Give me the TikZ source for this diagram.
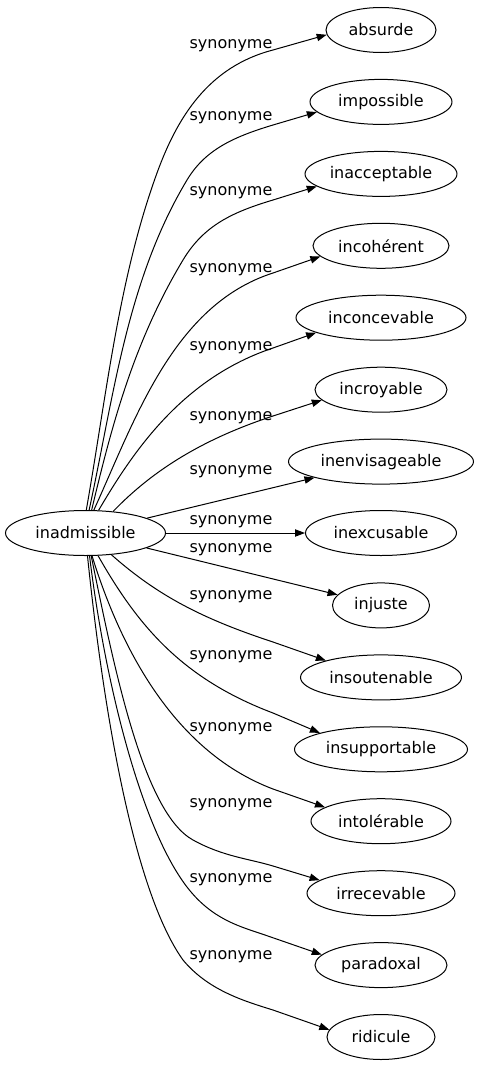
\documentclass[tikz,border=0pt]{standalone}
\usepackage{fontspec}
\setmainfont{DejaVu Sans}
\usetikzlibrary{shapes.geometric,arrows.meta}
\begin{document}
\begin{tikzpicture}[x=0.75pt,y=-0.75pt,
  nd/.style={ellipse,draw,line width=0.75pt,inner sep=0pt,minimum height=33.75pt,font=\fontsize{12}{14}\selectfont},
  lbl/.style={font=\fontsize{12}{14}\selectfont,inner sep=0pt},
  edge/.style={line width=0.75pt,-{Triangle[length=7.5pt,width=5.5pt]}}]
\useasboundingbox (0,0) rectangle (477,1067);
\node[nd,minimum width=120pt] (src) at (85.5,533) {inadmissible};
\node[nd,minimum width=82.5pt]  (t1)  at (381,30)    {absurde};
\node[nd,minimum width=106.5pt] (t2)  at (381,101.9) {impossible};
\node[nd,minimum width=114pt]   (t3)  at (381,173.9) {inacceptable};
\node[nd,minimum width=102pt]   (t4)  at (381,245.8) {incohérent};
\node[nd,minimum width=127.5pt] (t5)  at (381,317.7) {inconcevable};
\node[nd,minimum width=99pt]    (t6)  at (381,389.7) {incroyable};
\node[nd,minimum width=138.75pt](t7)  at (381,461.6) {inenvisageable};
\node[nd,minimum width=113.25pt](t8)  at (381,533)   {inexcusable};
\node[nd,minimum width=72.75pt] (t9)  at (381,605.4) {injuste};
\node[nd,minimum width=120.75pt](t10) at (381,677.4) {insoutenable};
\node[nd,minimum width=129.75pt](t11) at (381,749.3) {insupportable};
\node[nd,minimum width=105pt]   (t12) at (381,821.2) {intolérable};
\node[nd,minimum width=111pt]   (t13) at (381,893.2) {irrecevable};
\node[nd,minimum width=99pt]    (t14) at (381,965.1) {paradoxal};
\node[nd,minimum width=81pt]    (t15) at (381,1037)  {ridicule};

\node[lbl] (l1)  at (231,46)  {synonyme};
\node[lbl] (l2)  at (231,118) {synonyme};
\node[lbl] (l3)  at (231,193) {synonyme};
\node[lbl] (l4)  at (231,270) {synonyme};
\node[lbl] (l5)  at (231,348) {synonyme};
\node[lbl] (l6)  at (231,418) {synonyme};
\node[lbl] (l7)  at (231,472) {synonyme};
\node[lbl] (l8)  at (231,522) {synonyme};
\node[lbl] (l9)  at (231,550) {synonyme};
\node[lbl] (l10) at (231,597) {synonyme};
\node[lbl] (l11) at (231,657) {synonyme};
\node[lbl] (l12) at (231,729) {synonyme};
\node[lbl] (l13) at (231,805) {synonyme};
\node[lbl] (l14) at (231,880) {synonyme};
\node[lbl] (l15) at (231,957) {synonyme};

\draw[edge] (src.88) .. controls (106.5,395) and (118.7,278) .. (157,173) .. controls (177,118) and (208,66.8) .. (273,50) -- (t1.185);
\draw[edge] (src.81) .. controls (114,395) and (127,280) .. (187,180) .. controls (205,150) and (233,137) .. (273,125) -- (t2.189);
\draw[edge] (src.75) .. controls (113,420) and (135,340) .. (183,260) .. controls (204,225) and (233,212) .. (273,200) -- (t3.191);
\draw[edge] (src.70) .. controls (135,420) and (173,305) .. (273,273) -- (t4.190);
\draw[edge] (src.60) .. controls (134,450) and (183,378) .. (273,348) -- (t5.193);
\draw[edge] (src.38) .. controls (153,470) and (203,439) .. (273,416) -- (t6.190);
\draw[edge] (src) -- (t7);
\draw[edge] (src) -- (t8);
\draw[edge] (src) -- (t9);
\draw[edge] (src.320) .. controls (158,596) and (203,619) .. (273,642) -- (t10.163);
\draw[edge] (src.299) .. controls (138.5,627) and (183,679) .. (273,713) -- (t11.165);
\draw[edge] (src.286) .. controls (118,640) and (170,750) .. (273,789) -- (t12.166);
\draw[edge] (src.284) .. controls (114,667) and (143,812.5) .. (193,840) .. controls (223,856.5) and (248,858.5) .. (273,866) -- (t13.168);
\draw[edge] (src.280) .. controls (105.6,687) and (142,828.5) .. (187,887) .. controls (212,919.5) and (240,926.5) .. (265,935) -- (t14.170);
\draw[edge] (src.275) .. controls (103,707) and (133,890) .. (183,960) .. controls (208,990) and (243,1000.7) .. (273,1010) -- (t15.172);
\end{tikzpicture}
\end{document}
